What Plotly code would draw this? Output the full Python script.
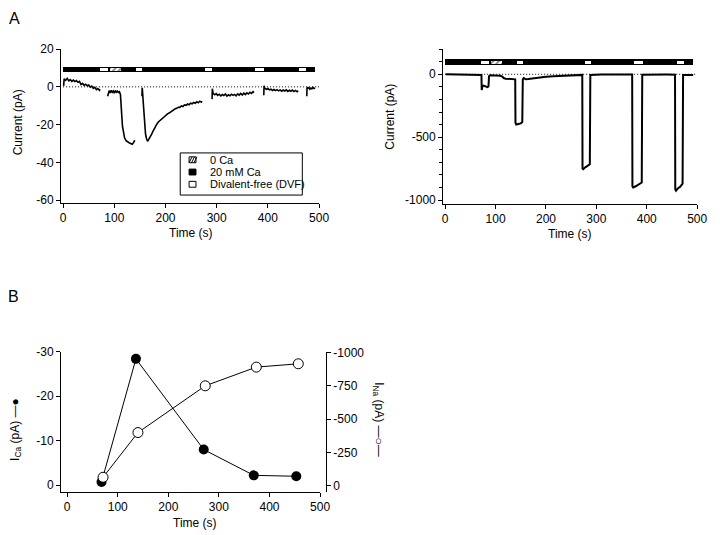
import plotly.graph_objects as go

W, H = 720, 535
FONT = "Liberation Sans, Arial, Helvetica, sans-serif"

# ---------------- data ----------------
# Panel A (left): Ca current trace (pA) vs time (s); None = gaps during DVF
ca_trace_t = [1, 2, 5, 8, 11, 14, 17, 20, 23, 26, 29, 32, 35, 38, 41, 44, 47, 50, 53, 56, 59, 62, 65, 68, 71, 72, None,
              87, 88, 90, 92, 94, 96, 98, 100, 102, 104, 106, 108, 110, 112, 113, 114, 115, 116, 118, 120, 123, 126, 129, 132, 135, 137, 138, 140, None,
              154, 154.5, 155, 157, 159, 161, 163, 165, 167, 169, 171, 173, 175, 177, 179, 181, 183, 186, 189, 192, 195, 198, 201, 204, 207, 210,
              213, 216, 219, 222, 225, 228, 231, 234, 237, 240, 243, 246, 249, 252, 255, 258, 261, 264, 267, 270, 271, None,
              291, 291.5, 293, 296, 299, 302, 305, 308, 311, 314, 317, 320, 323, 326, 329, 332, 335, 338, 341, 344, 347, 350, 353, 356, 359, 362, 365, 368, 371, 373, None,
              392, 392.5, 394, 397, 400, 403, 406, 409, 412, 415, 418, 421, 424, 427, 430, 433, 436, 439, 442, 445, 448, 451, 454, 457, 459, None,
              476, 476.5, 478, 480, 482, 484, 486, 488, 490, 492]
ca_trace_i = [0.5, 4.2, 3.5, 4.5, 3.2, 3.8, 2.9, 3.6, 2.8, 3.3, 2.4, 2.9, 1.2, 1.8, 0.8, 1.4, 0.6, 1.0, -0.2, 0.4, -0.8, -0.3, -1.5, -0.9, -1.8, -1.2, None,
              -5.0, -3.5, -2.0, -3.2, -1.8, -2.9, -2.2, -3.4, -1.9, -2.8, -2.3, -3.0, -2.6, -4.0, -7.0, -12.0, -17.0, -21.0, -24.5, -27.0, -28.5, -29.2, -29.6, -30.0, -30.4, -29.8, -29.0, -28.3, None,
              -5.0, -0.5, -2.0, -10.0, -20.0, -25.0, -27.5, -28.8, -28.0, -27.2, -26.0, -25.1, -23.8, -22.6, -22.0, -20.5, -19.8, -18.6, -17.8, -17.0, -16.2, -15.6, -15.0, -14.3, -13.9, -13.2,
              -12.8, -12.3, -11.6, -11.4, -10.8, -10.9, -10.1, -10.4, -9.6, -9.8, -9.1, -9.5, -8.7, -9.0, -8.3, -8.7, -7.9, -8.4, -7.6, -8.1, -7.5, None,
              -6.5, -1.0, -3.5, -4.2, -3.6, -4.5, -3.9, -4.8, -4.1, -4.6, -3.8, -4.9, -4.2, -4.7, -3.9, -4.5, -4.0, -4.8, -3.7, -4.4, -3.5, -4.3, -3.3, -4.1, -3.2, -3.8, -2.9, -3.5, -2.6, -3.1, None,
              -4.5, 0.6, -0.8, -1.3, -0.9, -1.6, -1.2, -1.9, -1.4, -2.0, -1.5, -2.1, -1.6, -2.3, -1.7, -2.2, -1.6, -2.4, -1.8, -2.3, -1.7, -2.5, -1.9, -2.6, -2.0, None,
              -5.0, -0.2, -0.8, -0.4, -1.2, -0.6, -1.0, -0.3, -0.9, -0.5]

# Panel A (right): Na current trace (pA) vs time (s)
na_trace_t = [1, 10, 20, 30, 40, 50, 60, 70, 72, 72.5, 74, 76, 78, 80, 82, 84, 86, 87, 89, 95, 100, 105, 110, 114, 116, 120, 125, 130, 135, 139,
              139.5, 141, 145, 150, 153, 154, 156, 160, 165, 170, 180, 190, 200, 215, 230, 250, 270, 272, 272.5, 274, 278, 282, 286, 287, 288, 295,
              310, 330, 350, 371, 371.5, 373, 378, 383, 388, 390, 391, 400, 420, 440, 456, 456.5, 458, 462, 466, 470, 471, 472, 480, 492]
na_trace_i = [0, 0, -1, -1, -2, -3, -3, -5, -5, -125, -95, -90, -92, -98, -100, -102, -95, -15, -8, -8, -9, -10, -12, -20, -30, -35, -36, -37, -38, -40,
              -385, -400, -395, -390, -380, -40, -30, -40, -38, -35, -30, -25, -20, -15, -12, -8, -5, -5, -750, -755, -740, -730, -720, -715, -5, -2,
              -1, -1, -1, -2, -890, -900, -890, -880, -870, -860, -3, -2, -2, -2, -3, -915, -925, -905, -895, -880, -870, -5, -5, -5]

# Solution application bar (s)
ca20_start, ca20_end = [0], [492]
dvf_start = [72, 142, 277, 375, 460]
dvf_end = [87, 154, 290, 392, 475]
zeroca_start = [91]
zeroca_end = [113]

# Zero reference (dotted)
zero_t = [0, 500]
zero_i = [0, 0]

# Panel B summary
b_ca_t = [68, 136, 270, 369, 453]
b_ca_i = [-0.7, -28.4, -8.0, -2.2, -2.0]
b_na_t = [71, 140, 273, 374, 457]
b_na_i = [-65, -400, -750, -890, -915]

# Tick values / labels
time_ticks = [0, 100, 200, 300, 400, 500]
time_labels = ["0", "100", "200", "300", "400", "500"]
a1_yticks = [-60, -40, -20, 0, 20]
a1_ylabels = ["-60", "-40", "-20", "0", "20"]
a2_yticks = [-1000, -500, 0]
a2_ylabels = ["-1000", "-500", "0"]
a2_minor_ticks = [-900, -800, -700, -600, -400, -300, -200, -100, 100, 200]
b_ca_ticks = [0, -10, -20, -30]
b_ca_labels = ["0", "-10", "-20", "-30"]
b_na_ticks = [0, -250, -500, -750, -1000]
b_na_labels = ["0", "-250", "-500", "-750", "-1000"]


def px(x):
    return x / W


def py(y):
    return 1 - y / H


fig = go.Figure()

# stimulus bars for panels A (axis suffix, bar centre, outer height, inner height)
for xa, ya, yc, hout, hin in [("x", "y", 9.1, 2.9, 1.5), ("x2", "y2", 96, 52, 24)]:
    fig.add_trace(go.Bar(orientation="h", y=[yc] * len(ca20_start),
                         x=[e - s for s, e in zip(ca20_start, ca20_end)], base=ca20_start,
                         width=hout, marker=dict(color="black", line=dict(width=0)),
                         xaxis=xa, yaxis=ya, showlegend=False, hoverinfo="skip"))
    fig.add_trace(go.Bar(orientation="h", y=[yc] * len(dvf_start),
                         x=[e - s for s, e in zip(dvf_start, dvf_end)], base=dvf_start,
                         width=hin, marker=dict(color="white", line=dict(width=0)),
                         xaxis=xa, yaxis=ya, showlegend=False, hoverinfo="skip"))
    fig.add_trace(go.Bar(orientation="h", y=[yc] * len(zeroca_start),
                         x=[e - s for s, e in zip(zeroca_start, zeroca_end)], base=zeroca_start,
                         width=hin,
                         marker=dict(color="white", line=dict(width=0),
                                     pattern=dict(shape="/", fgcolor="black", bgcolor="white",
                                                  size=4, solidity=0.45)),
                         xaxis=xa, yaxis=ya, showlegend=False, hoverinfo="skip"))
    fig.add_trace(go.Scatter(x=zero_t, y=zero_i, mode="lines",
                             line=dict(color="black", width=1, dash="1px,2px"),
                             xaxis=xa, yaxis=ya, showlegend=False, hoverinfo="skip"))

fig.add_trace(go.Scatter(x=ca_trace_t, y=ca_trace_i, mode="lines",
                         line=dict(color="black", width=1.6), xaxis="x", yaxis="y",
                         showlegend=False, connectgaps=False))
fig.add_trace(go.Scatter(x=na_trace_t, y=na_trace_i, mode="lines",
                         line=dict(color="black", width=2), xaxis="x2", yaxis="y2",
                         showlegend=False))

# Panel B
fig.add_trace(go.Scatter(x=b_ca_t, y=b_ca_i, mode="lines+markers",
                         line=dict(color="black", width=1),
                         marker=dict(color="black", size=10, symbol="circle"),
                         xaxis="x3", yaxis="y3", showlegend=False, cliponaxis=False))
fig.add_trace(go.Scatter(x=b_na_t, y=b_na_i, mode="lines+markers",
                         line=dict(color="black", width=1),
                         marker=dict(color="white", size=10, symbol="circle",
                                     line=dict(color="black", width=1)),
                         xaxis="x3", yaxis="y4", showlegend=False, cliponaxis=False))

axis_common = dict(showline=True, linecolor="black", linewidth=1, ticks="outside",
                   ticklen=4, tickwidth=1, tickcolor="black", showgrid=False,
                   zeroline=False, tickfont=dict(family=FONT, size=12, color="#000000"),
                   fixedrange=True)

fig.update_layout(
    width=W, height=H, autosize=False, margin=dict(l=0, r=0, t=0, b=0, pad=0),
    paper_bgcolor="white", plot_bgcolor="white",
    barmode="overlay", bargap=0, showlegend=False,
    font=dict(family=FONT, size=12, color="#000000"),
    xaxis=dict(domain=[px(61), px(323)], range=[-4, 500], anchor="y",
               tickvals=time_ticks, ticktext=time_labels, **axis_common),
    yaxis=dict(domain=[py(200), py(43)], range=[-61.5, 20], anchor="x",
               tickvals=a1_yticks, ticktext=a1_ylabels, **axis_common),
    xaxis2=dict(domain=[px(449), px(707)], range=[-4, 500], anchor="y2",
                tickvals=time_ticks, ticktext=time_labels, **axis_common),
    yaxis2=dict(domain=[py(201), py(43)], range=[-1030, 200], anchor="x2",
                tickvals=a2_yticks, ticktext=a2_ylabels,
                minor=dict(tickvals=a2_minor_ticks, ticks="outside", ticklen=3,
                           tickwidth=1, tickcolor="black", showgrid=False),
                **axis_common),
    xaxis3=dict(domain=[px(61), px(324)], range=[-12, 500], anchor="y3",
                tickvals=time_ticks, ticktext=time_labels, **axis_common),
    yaxis3=dict(domain=[py(495), py(352)], range=[1.5, -30], anchor="x3",
                tickvals=b_ca_ticks, ticktext=b_ca_labels, **axis_common),
    yaxis4=dict(range=[44, -1005], overlaying="y3", side="right", anchor="free",
                position=px(330), tickvals=b_na_ticks, ticktext=b_na_labels, **axis_common),
)

ann = []


def add_text(text, x, y, size=12, angle=0, xanchor="center"):
    ann.append(dict(text=text, x=px(x), y=py(y), xref="paper", yref="paper",
                    showarrow=False, textangle=angle, xanchor=xanchor, yanchor="middle",
                    font=dict(family=FONT, size=size, color="#000000")))


add_text("A", 14, 12, size=16)
add_text("B", 13, 296, size=16)
add_text("Current (pA)", 17, 118, angle=-90)
add_text("Current (pA)", 395, 112, angle=-90)
add_text("Time (s)", 193, 231)
add_text("Time (s)", 578, 232)
add_text("Time (s)", 197, 527)
add_text("I<sub>Ca</sub> (pA) —●", 15, 431, angle=-90)
add_text("I<sub>Na</sub> (pA) —○—", 383, 421, angle=90)

# manual legend for panel A (left)
shapes = []
shapes.append(dict(type="rect", xref="paper", yref="paper", x0=px(182), x1=px(306),
                   y0=py(192), y1=py(149), line=dict(color="black", width=1),
                   fillcolor="white", layer="above"))
legend_rows = [("0 Ca", 156), ("20 mM Ca", 168.5), ("Divalent-free (DVF)", 181)]
for i, (lbl, yy) in enumerate(legend_rows):
    fill = "black" if i == 1 else "white"
    shapes.append(dict(type="rect", xref="paper", yref="paper", x0=px(191), x1=px(198),
                       y0=py(yy + 3), y1=py(yy - 3), line=dict(color="black", width=1),
                       fillcolor=fill, layer="above"))
    add_text(lbl, 210, yy, size=11, xanchor="left")
# hatch lines in "0 Ca" swatch
for dx in [0, 2.5, 5]:
    shapes.append(dict(type="line", xref="paper", yref="paper",
                       x0=px(191 + dx), y0=py(159), x1=px(191 + dx + 3), y1=py(153),
                       line=dict(color="black", width=1), layer="above"))

fig.update_layout(annotations=ann, shapes=shapes)

fig.write_html("out.html",
               config={"displayModeBar": False, "responsive": False},
               post_script="document.body.style.margin='0';document.body.style.overflow='hidden';")
